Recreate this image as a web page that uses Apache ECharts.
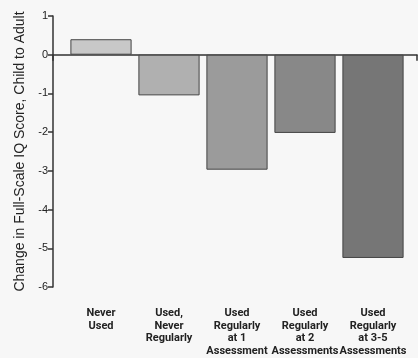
<!DOCTYPE html>
<html><head><meta charset="utf-8">
<script src="https://cdn.jsdelivr.net/npm/echarts@6/dist/echarts.min.js"></script>
<style>html,body{margin:0;padding:0;background:#f7f7f7;}#c{width:418px;height:358px;}</style>
</head><body><div id="c"></div>
<script>
const categories = ['Never\nUsed', 'Used,\nNever\nRegularly', 'Used\nRegularly\nat 1\nAssessment', 'Used\nRegularly\nat 2\nAssessments', 'Used\nRegularly\nat 3-5\nAssessments'];
const values = [0.4, -1.05, -2.97, -2.02, -5.25];
const yTicks = [1, 0, -1, -2, -3, -4, -5, -6];
const yTitle = 'Change in Full-Scale IQ Score, Child to Adult';

const barColors = ['#c8c8c8', '#b0b0b0', '#9b9b9b', '#888888', '#767676'];
const chart = echarts.init(document.getElementById('c'), null, {renderer: 'canvas'});
const yMin = Math.min(...yTicks), yMax = Math.max(...yTicks);
chart.setOption({
  backgroundColor: '#f7f7f7',
  animation: false,
  grid: [
    {left: 53, right: 1, top: 16, bottom: 71},
    {left: 67, width: 340, top: 16, bottom: 71}
  ],
  xAxis: [
    {gridIndex: 0, type: 'value', min: 0, max: 1, interval: 1,
     axisLine: {onZero: true, lineStyle: {color: '#333', width: 1.5}},
     axisTick: {show: true, length: 6, lineStyle: {color: '#333', width: 1.5}},
     axisLabel: {show: false}, splitLine: {show: false}},
    {gridIndex: 1, type: 'category', data: categories, position: 'bottom',
     axisLine: {show: false, onZero: false}, axisTick: {show: false},
     axisLabel: {margin: 20, interval: 0, fontFamily: 'Roboto, "Liberation Sans", Arial, sans-serif',
       fontWeight: 'bold', fontSize: 11, lineHeight: 12.5, color: '#222'}}
  ],
  yAxis: [
    {gridIndex: 0, type: 'value', min: yMin, max: yMax, interval: 1,
     name: yTitle, nameLocation: 'middle', nameGap: 24,
     nameTextStyle: {fontFamily: 'Liberation Sans, Arial, sans-serif', fontSize: 14, color: '#222'},
     axisLine: {show: true, lineStyle: {color: '#333', width: 1.5}},
     axisTick: {show: true, length: 5, lineStyle: {color: '#333', width: 1.5}},
     axisLabel: {margin: 5, fontFamily: 'Liberation Sans, Arial, sans-serif', fontSize: 11, color: '#222'},
     splitLine: {show: false}},
    {gridIndex: 1, type: 'value', min: yMin, max: yMax, interval: 1, show: false, splitLine: {show: false}}
  ],
  series: [{
    type: 'bar', xAxisIndex: 1, yAxisIndex: 1, barCategoryGap: '10%',
    data: values.map((v, i) => ({value: v, itemStyle: {color: barColors[i]}})),
    itemStyle: {borderColor: '#444', borderWidth: 1}
  }]
});
</script></body></html>
